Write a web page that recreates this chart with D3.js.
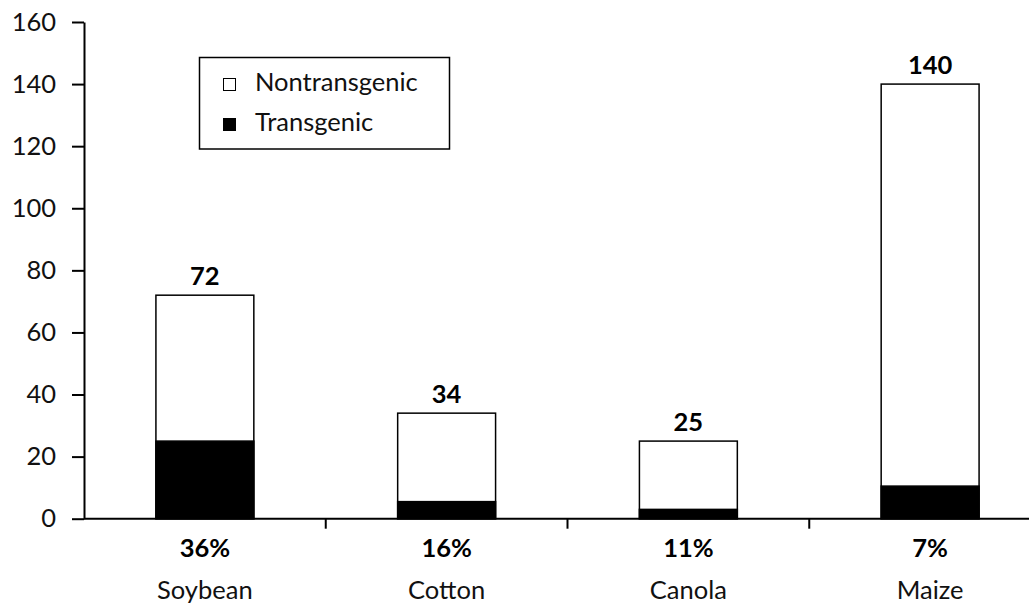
<!DOCTYPE html>
<html><head><meta charset="utf-8">
<script src="https://cdn.jsdelivr.net/npm/d3@7"></script>
<style>body{margin:0;background:#fff}svg{display:block}</style>
</head><body>
<svg id="c" width="1031" height="603"></svg>
<script>
const categories = ["Soybean","Cotton","Canola","Maize"];
const transgenic = [25, 5.5, 3, 10.5];
const totals = [72, 34, 25, 140];
const percentLabels = ["36%","16%","11%","7%"];
const yTicks = [0,20,40,60,80,100,120,140,160];
const seriesNames = ["Nontransgenic","Transgenic"];

const svg = d3.select("#c");
const font = "Lato, 'Open Sans', sans-serif";
const fs = 25.5;
const x = d3.scaleBand().domain(categories).range([84,1051]).paddingInner(0.595).paddingOuter(0.2975);
const y = d3.scaleLinear().domain([0,160]).range([518.7,22]);

// y axis
const ya = svg.append("g").attr("transform","translate(84,0)")
  .call(d3.axisLeft(y).tickValues(yTicks).tickSize(12).tickPadding(16).tickSizeOuter(0));
ya.select(".domain").attr("stroke","#000").attr("stroke-width",2);
ya.selectAll(".tick line").attr("stroke","#000").attr("stroke-width",2);
ya.selectAll("text").attr("font-family",font).attr("font-size",fs).attr("fill","#111");

// x axis line with category separator ticks
const g = svg.append("g");
g.append("line").attr("x1",84).attr("x2",1029).attr("y1",y(0)).attr("y2",y(0)).attr("stroke","#000").attr("stroke-width",2);
categories.slice(1).forEach(c=>{
  const xs = x(c) - x.step()*x.paddingInner()/2;
  g.append("line").attr("x1",xs).attr("x2",xs).attr("y1",y(0)).attr("y2",y(0)+10).attr("stroke","#000").attr("stroke-width",2);
});

// bars
categories.forEach((c,i)=>{
  svg.append("rect").attr("x",x(c)).attr("width",x.bandwidth())
    .attr("y",y(totals[i])).attr("height",y(0)-y(totals[i]))
    .attr("fill","#fff").attr("stroke","#000").attr("stroke-width",1.5);
  svg.append("rect").attr("x",x(c)).attr("width",x.bandwidth())
    .attr("y",y(transgenic[i])).attr("height",y(0)-y(transgenic[i]))
    .attr("fill","#000").attr("stroke","#000").attr("stroke-width",1.5);
  const cx = x(c)+x.bandwidth()/2;
  svg.append("text").attr("x",cx).attr("y",y(totals[i])-10).attr("text-anchor","middle")
    .attr("font-family",font).attr("font-size",fs).attr("font-weight","bold").text(totals[i]);
  svg.append("text").attr("x",cx).attr("y",557).attr("text-anchor","middle")
    .attr("font-family",font).attr("font-size",fs).attr("font-weight","bold").text(percentLabels[i]);
  svg.append("text").attr("x",cx).attr("y",599).attr("text-anchor","middle")
    .attr("font-family",font).attr("font-size",fs).attr("fill","#111").text(c);
});

// legend
const lg = svg.append("g");
lg.append("rect").attr("x",199.5).attr("y",57.5).attr("width",250).attr("height",91.5)
  .attr("fill","#fff").attr("stroke","#000").attr("stroke-width",1.5);
seriesNames.forEach((n,i)=>{
  const yy = 78 + i*40;
  lg.append("rect").attr("x",223.5).attr("y",yy+0.5).attr("width",12).attr("height",12)
    .attr("fill", i===0?"#fff":"#000").attr("stroke","#000").attr("stroke-width",1);
  lg.append("text").attr("x",255).attr("y",yy+12.5).attr("font-family",font).attr("font-size",fs).attr("fill","#111").text(n);
});
</script>
</body></html>
